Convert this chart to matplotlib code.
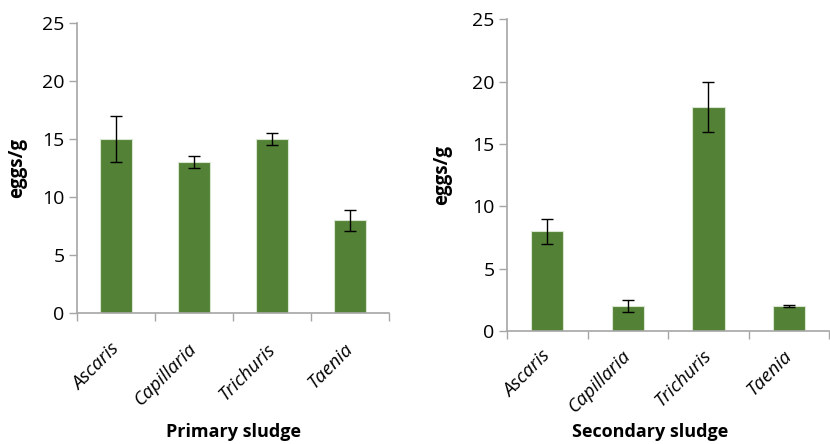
import numpy as np
import matplotlib
matplotlib.use("Agg")
import matplotlib.pyplot as plt

plt.rcParams['font.family'] = ['Open Sans', 'DejaVu Sans']

# data
parasites = ["Ascaris", "Capillaria", "Trichuris", "Taenia"]
primary_eggs = [15, 13, 15, 8]
primary_err = [2, 0.5, 0.5, 0.9]
secondary_eggs = [8, 2, 18, 2]
secondary_err = [1, 0.5, 2, 0.1]
panel_titles = ["Primary sludge", "Secondary sludge"]
y_ticks = [0, 5, 10, 15, 20, 25]

bar_color = "#538135"
spine_color = "#a6a6a6"

fig = plt.figure(figsize=(8.3, 4.44), dpi=100)
ax1 = fig.add_axes([0.0928, 0.295, 0.376, 0.653])
ax2 = fig.add_axes([0.611, 0.2545, 0.388, 0.702])


def draw_panel(ax, vals, errs, title, title_xy, lab_pad):
    x = np.arange(len(parasites))
    ax.bar(x, vals, width=0.4, color=bar_color, edgecolor="#d9e6cf",
           linewidth=0.8, zorder=2)
    ax.errorbar(x, vals, yerr=errs, fmt="none", ecolor="black",
                elinewidth=1, capsize=4, capthick=1, zorder=3)
    ax.set_xlim(-0.5, len(parasites) - 0.5)
    ax.set_ylim(0, 25)
    ax.set_yticks(y_ticks)
    ax.tick_params(axis="y", labelsize=14, length=6, color=spine_color,
                   width=1, pad=3)
    # category boundaries as x ticks
    ax.set_xticks(np.arange(len(parasites) + 1) - 0.5, minor=False)
    ax.set_xticklabels([])
    ax.tick_params(axis="x", length=6, color=spine_color, width=1)
    ax.set_xticks(x, minor=True)
    ax.set_xticklabels(parasites, minor=True, rotation=45, ha="right",
                       va="center", rotation_mode="anchor", style="italic",
                       fontsize=13.5)
    ax.tick_params(axis="x", which="minor", length=0, pad=lab_pad)
    for side in ["top", "right"]:
        ax.spines[side].set_visible(False)
    for side in ["left", "bottom"]:
        ax.spines[side].set_color(spine_color)
        ax.spines[side].set_linewidth(1.2)
    ax.set_ylabel("eggs/g", fontsize=13.5, fontweight="bold")
    fig.text(title_xy[0], title_xy[1], title, ha="center", va="center",
             fontsize=13, fontweight="bold")


draw_panel(ax1, primary_eggs, primary_err, panel_titles[0], (0.281, 0.027), 24)
draw_panel(ax2, secondary_eggs, secondary_err, panel_titles[1], (0.783, 0.027), 16)
ax1.yaxis.set_label_coords(-0.16, 0.5)
ax2.yaxis.set_label_coords(-0.17, 0.5)

fig.savefig("out.png", dpi=100)
